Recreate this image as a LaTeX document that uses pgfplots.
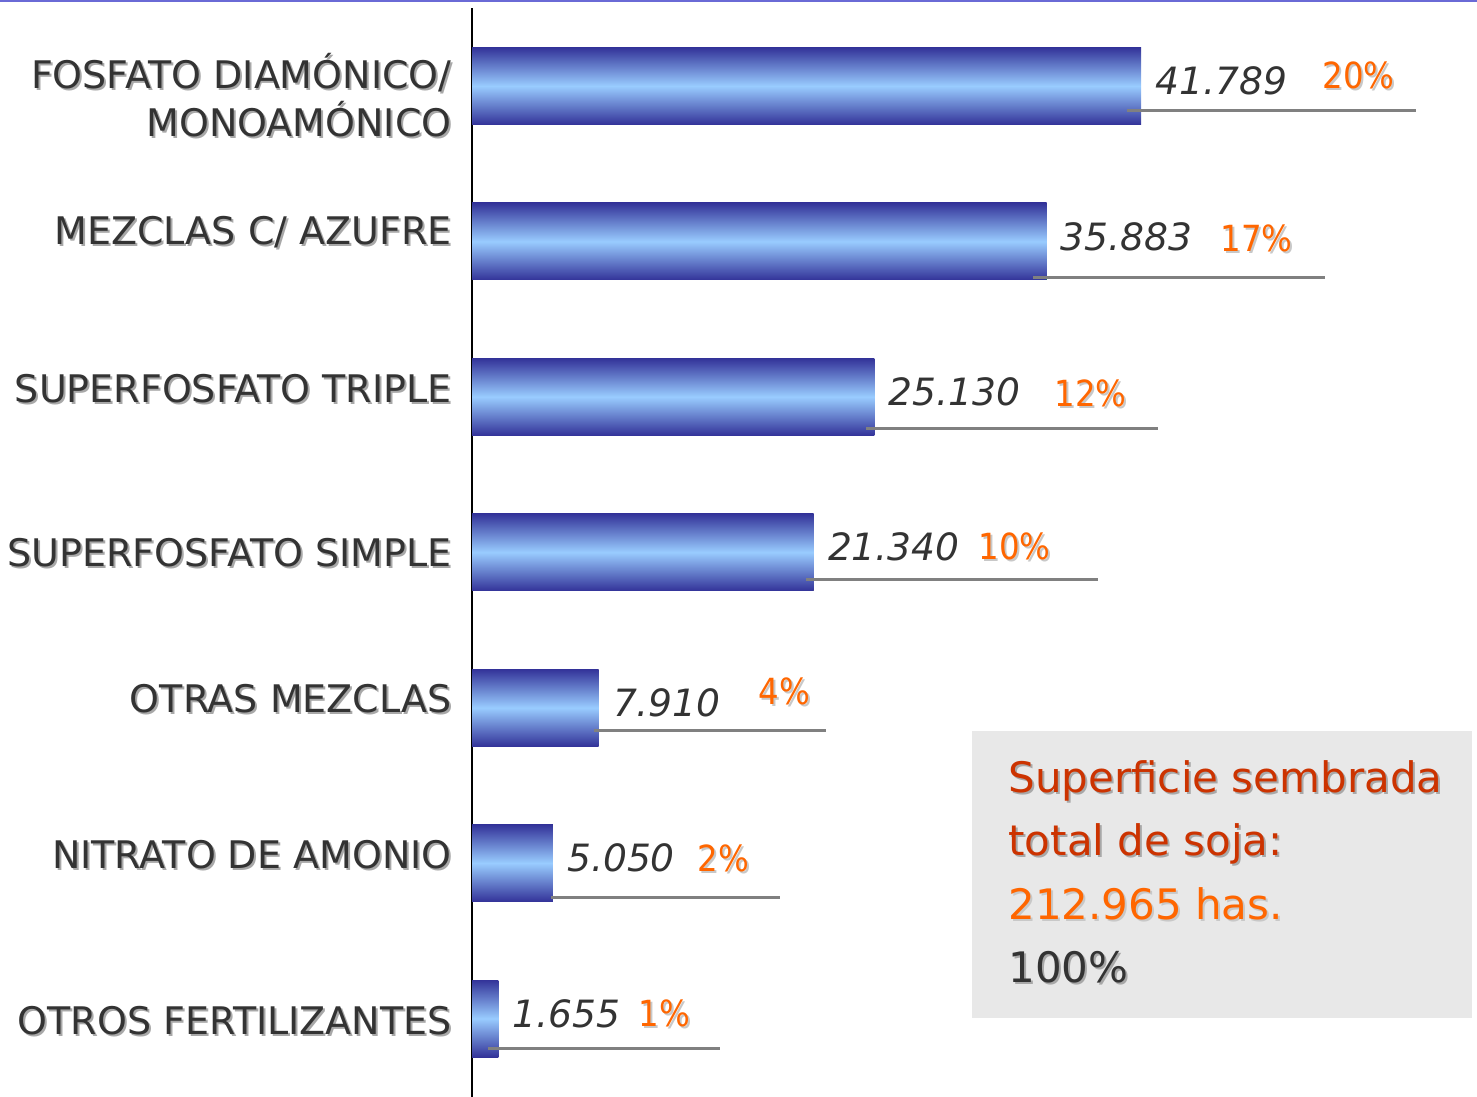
\documentclass[border=0pt]{standalone}
\usepackage{pgfplots}
\pgfplotsset{compat=1.18}
\usepackage{fontspec}
\setmainfont{DejaVu Sans}
\newfontfamily\condfont{DejaVu Sans Condensed}
\definecolor{bardark}{HTML}{333399}
\definecolor{barlight}{HTML}{99CCFF}
\definecolor{textdark}{HTML}{333333}
\definecolor{pctorange}{HTML}{FF6600}
\definecolor{redorange}{HTML}{CC3300}
\definecolor{shadowgray}{HTML}{A8A8A8}
\definecolor{pctshadow}{HTML}{C8C8C8}
\definecolor{linegray}{HTML}{808080}
\definecolor{boxgray}{HTML}{E8E8E8}
\definecolor{topline}{HTML}{6A6AD6}
\newcommand\sh[2][shadowgray]{\makebox[0pt][l]{\hspace*{1pt}\raisebox{-1pt}{\textcolor{#1}{#2}}}#2}
\newcommand\lab[2]{\raisebox{#1}{\sh{#2}}}
\newcommand\labfont{\fontsize{19pt}{21pt}\selectfont}
\newcommand\valfont{\fontsize{18.8pt}{21pt}\selectfont\itshape}
\newcommand\pctfont{\fontsize{18pt}{21pt}\selectfont\condfont}
\newcommand\boxfont{\fontsize{21pt}{25pt}\selectfont}
\begin{document}
\begin{tikzpicture}
\useasboundingbox[x=0.5pt,y=-0.5pt] (0,0) rectangle (1477,1097);
\fill[topline,x=0.5pt,y=-0.5pt] (0,0) rectangle (1477,2);
\begin{axis}[
  at={(236pt,-548.5pt)}, anchor=south west,
  scale only axis, width=500pt, height=544.5pt,
  xmin=0, xmax=62461, ymin=-0.505, ymax=6.502,
  xbar, bar width=38.5pt, bar shift=0pt,
  axis y line*=left, axis x line=none,
  y axis line style={line width=1pt, black},
  ytick={0,1,2,3,4,5,6}, xtick=\empty,
  major tick length=0pt, ytick style={draw=none},
  yticklabels={
    {\lab{-1pt}{OTROS FERTILIZANTES}},
    {\lab{4pt}{NITRATO DE AMONIO}},
    {\lab{4.5pt}{OTRAS MEZCLAS}},
    {\lab{0pt}{SUPERFOSFATO SIMPLE}},
    {\lab{4pt}{SUPERFOSFATO TRIPLE}},
    {\lab{5.5pt}{MEZCLAS C/ AZUFRE}},
    {\raisebox{-18.5pt}{\sh{\begin{tabular}[b]{@{}r@{}}FOSFATO DIAMÓNICO/\\MONOAMÓNICO\end{tabular}}}}
  },
  yticklabel style={anchor=base east, inner sep=0pt, xshift=-10pt, yshift=-6.9pt, font=\labfont, text=textdark},
  nodes near coords={\pgfplotspointmeta}, point meta=explicit symbolic,
  nodes near coords style={anchor=west, inner sep=0pt, xshift=7pt, yshift=2.5pt, font=\valfont, text=textdark},
  every axis plot/.append style={draw=none, top color=bardark, bottom color=bardark, middle color=barlight},
  clip=false,
]
\addplot coordinates {(1655,0) [1.655]};
\addplot coordinates {(5050,1) [5.050]};
\addplot coordinates {(7910,2) [7.910]};
\addplot coordinates {(21340,3) [21.340]};
\addplot coordinates {(25130,4) [25.130]};
\addplot coordinates {(35883,5) [35.883]};
\addplot coordinates {(41789,6) [41.789]};
\end{axis}
\begin{scope}[x=0.5pt,y=-0.5pt]
\draw[linegray, line width=1.5pt] (1127,111) -- (1416,111);
\draw[linegray, line width=1.5pt] (1033,277) -- (1325,277);
\draw[linegray, line width=1.5pt] (866,428) -- (1158,428);
\draw[linegray, line width=1.5pt] (806,579) -- (1098,579);
\draw[linegray, line width=1.5pt] (594,730) -- (826,730);
\draw[linegray, line width=1.5pt] (551,897) -- (780,897);
\draw[linegray, line width=1.5pt] (488,1048) -- (720,1048);
\begin{scope}[every node/.style={anchor=west, inner sep=0pt, font=\pctfont, text=pctorange}]
\node at (1322,76) {\sh[pctshadow]{20\%}};
\node at (1220,239) {\sh[pctshadow]{17\%}};
\node at (1054,394) {\sh[pctshadow]{12\%}};
\node at (978,547) {\sh[pctshadow]{10\%}};
\node at (758,692) {\sh[pctshadow]{4\%}};
\node at (697,859) {\sh[pctshadow]{2\%}};
\node at (638,1014) {\sh[pctshadow]{1\%}};
\end{scope}
\fill[boxgray] (972,731) rectangle (1472,1018);
\begin{scope}[every node/.style={anchor=base west, inner sep=0pt, font=\boxfont}]
\node[text=redorange] at (1008,792) {\sh[shadowgray]{Superficie sembrada}};
\node[text=redorange] at (1008,855) {\sh[shadowgray]{total de soja:}};
\node[text=pctorange] at (1008,919) {\sh[pctshadow]{212.965 has.}};
\node[text=textdark] at (1008,982) {\sh[shadowgray]{100\%}};
\end{scope}
\end{scope}
\end{tikzpicture}
\end{document}
